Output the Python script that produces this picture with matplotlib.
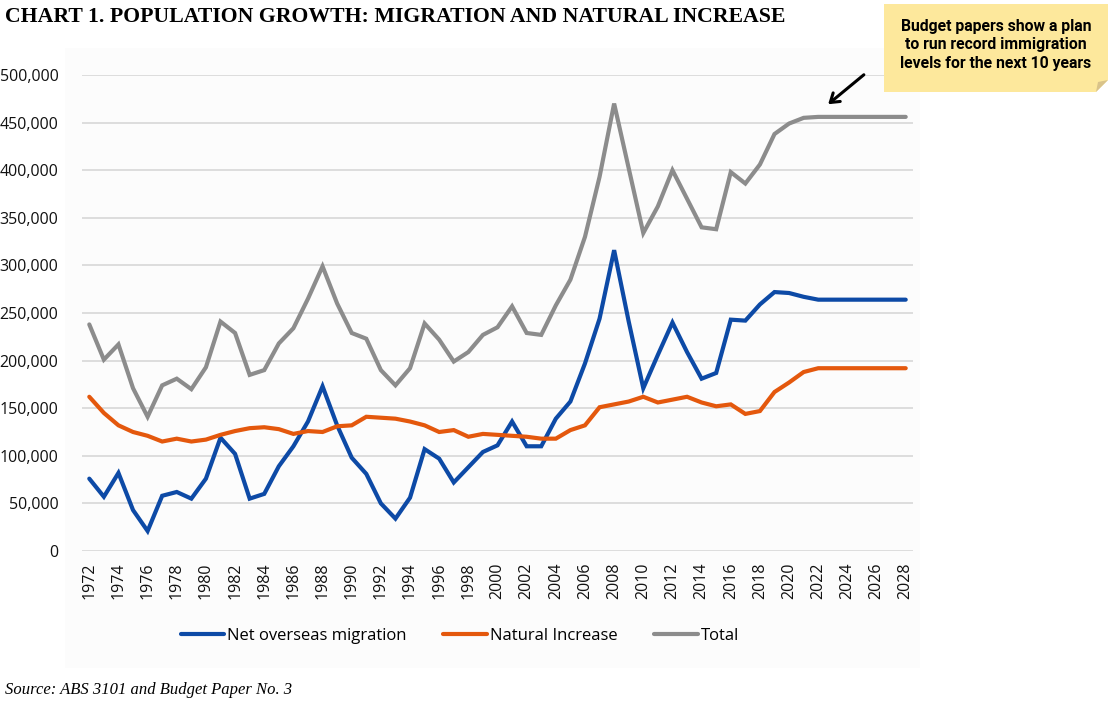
import numpy as np
import matplotlib.pyplot as plt
from matplotlib.patches import Rectangle, Polygon, FancyArrowPatch

# data (annual, 1972-2028)
years = list(range(1972, 2029))

net_migration = [76000, 57000, 82000, 43000, 21000, 58000, 62000, 55000, 76000, 119000,
                 102000, 55000, 60000, 89000, 110000, 136000, 173000, 132000, 98000, 81000,
                 50000, 34000, 56000, 107000, 97000, 72000, 88000, 104000, 111000, 136000,
                 110000, 110000, 139000, 157000, 197000, 244000, 316000, 241000, 171000, 206000,
                 240000, 209000, 181000, 187000, 243000, 242000, 259000, 272000, 271000, 267000,
                 264000, 264000, 264000, 264000, 264000, 264000, 264000]

natural_increase = [162000, 145000, 132000, 125000, 121000, 115000, 118000, 115000, 117000, 122000,
                    126000, 129000, 130000, 128000, 123000, 126000, 125000, 131000, 132000, 141000,
                    140000, 139000, 136000, 132000, 125000, 127000, 120000, 123000, 122000, 121000,
                    120000, 118000, 118000, 127000, 132000, 151000, 154000, 157000, 162000, 156000,
                    159000, 162000, 156000, 152000, 154000, 144000, 147000, 167000, 177000, 188000,
                    192000, 192000, 192000, 192000, 192000, 192000, 192000]

total = [238000, 201000, 217000, 171000, 141000, 174000, 181000, 170000, 193000, 241000,
         229000, 185000, 190000, 218000, 234000, 265000, 299000, 260000, 229000, 223000,
         190000, 174000, 192000, 239000, 222000, 199000, 209000, 227000, 235000, 257000,
         229000, 227000, 258000, 285000, 330000, 393000, 470000, 402000, 334000, 362000,
         400000, 370000, 340000, 338000, 398000, 386000, 406000, 438000, 449000, 455000,
         456000, 456000, 456000, 456000, 456000, 456000, 456000]

series_names = ['Net overseas migration', 'Natural Increase', 'Total']
colors = ['#0d4aa6', '#e4580d', '#8c8c8c']

W, H = 1115, 710
fig = plt.figure(figsize=(W / 100, H / 100), dpi=100)

# faint chart-area background, kept behind the axes
fig.patches.append(Rectangle((65 / W, 1 - 668 / H), 855 / W, 620 / H,
                             transform=fig.transFigure, facecolor='#fcfcfc',
                             edgecolor='none', zorder=-5))

ax = fig.add_axes([82 / W, 1 - 551 / H, 831 / W, 476 / H])
ax.set_facecolor('none')
ax.set_zorder(1)

for vals, name, c in zip([net_migration, natural_increase, total], series_names, colors):
    ax.plot(years, vals, color=c, lw=3.0, label=name, solid_capstyle='round',
            solid_joinstyle='miter')

ax.set_xlim(1971.5, 2028.5)
ax.set_ylim(0, 500000)
ax.set_yticks(np.arange(0, 500001, 50000))
ax.set_yticklabels(['0'] + ['{:,}'.format(v) for v in range(50000, 500001, 50000)])
ax.set_xticks(years[::2])
ax.set_xticklabels([str(y) for y in years[::2]], rotation=90)
ax.grid(axis='y', color='#d4d4d4', lw=1.1)
ax.set_axisbelow(True)
for s in ax.spines.values():
    s.set_visible(False)
ax.tick_params(axis='both', length=0, labelsize=11.5, colors='#111111')
ax.tick_params(axis='y', pad=17)
ax.tick_params(axis='x', pad=8)
for lab in ax.get_xticklabels() + ax.get_yticklabels():
    lab.set_fontfamily('Open Sans')

leg = fig.legend(loc='center', bbox_to_anchor=(460 / W, 1 - 636 / H), ncol=3,
                 frameon=False, handlelength=2.6, handletextpad=0.2,
                 columnspacing=2.2, prop={'family': 'Open Sans', 'size': 12})

fig.text(5 / W, 1 - 17 / H, 'CHART 1. POPULATION GROWTH: MIGRATION AND NATURAL INCREASE',
         family='Liberation Serif', weight='bold', fontsize=15.7, va='center', ha='left')
fig.text(5 / W, 1 - 690 / H, 'Source: ABS 3101 and Budget Paper No. 3',
         family='Liberation Serif', style='italic', fontsize=12, va='center', ha='left')

# sticky note
nx0, nx1, ny0, ny1 = 884, 1108, 4, 92
fold = 12
note = Polygon([(nx0 / W, 1 - ny0 / H), (nx1 / W, 1 - ny0 / H),
                (nx1 / W, 1 - (ny1 - fold) / H), ((nx1 - fold) / W, 1 - ny1 / H),
                (nx0 / W, 1 - ny1 / H)], closed=True, transform=fig.transFigure,
               facecolor='#fde89c', edgecolor='none', zorder=3)
fig.patches.append(note)
corner = Polygon([(nx1 / W, 1 - (ny1 - fold) / H), ((nx1 - fold) / W, 1 - ny1 / H),
                  ((nx1 - fold + 2) / W, 1 - (ny1 - fold + 2) / H)], closed=True,
                 transform=fig.transFigure, facecolor='#d9c38a', edgecolor='none', zorder=4)
fig.patches.append(corner)
fig.text(996 / W, 1 - 45 / H,
         'Budget papers show a plan\nto run record immigration\nlevels for the next 10 years',
         family='Roboto', weight='bold', fontsize=11.3, ha='center',
         va='center', linespacing=1.3, zorder=5)

# arrow pointing at the flat projection
fig.patches.append(FancyArrowPatch(
    (866 / W, 1 - 73 / H), (826 / W, 1 - 106 / H), transform=fig.transFigure,
    arrowstyle='->,head_length=6,head_width=4', lw=2.2, color='black', zorder=5))

fig.savefig('out.png', dpi=100)
